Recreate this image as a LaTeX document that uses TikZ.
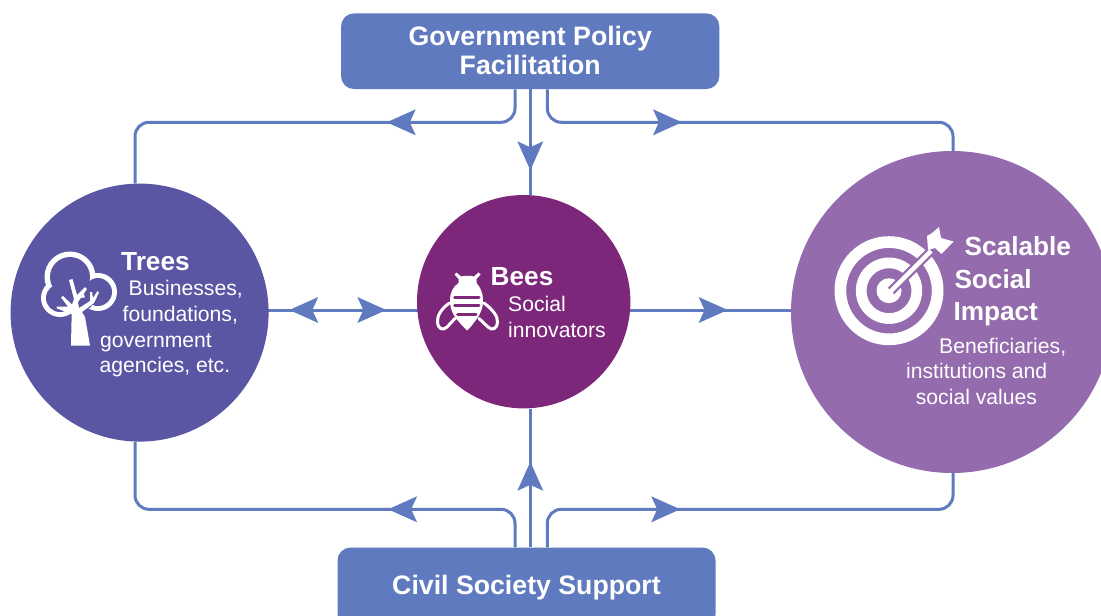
\documentclass[tikz,border=0pt]{standalone}
\usepackage{fontspec}
\setmainfont{Liberation Sans}
\usetikzlibrary{arrows.meta,decorations.markings}
\definecolor{linkblue}{HTML}{5F7ABE}
\definecolor{treecol}{HTML}{5B56A4}
\definecolor{beecol}{HTML}{7D277B}
\definecolor{impactcol}{HTML}{946BAD}
\newcommand{\headfont}{\fontsize{26.7}{29}\bfseries\selectfont}
\newcommand{\bodyfont}{\fontsize{21.15}{25}\selectfont}
\tikzset{
  box/.style={rectangle,rounded corners=13pt,fill=linkblue,text=white,inner sep=0pt,align=center,font=\headfont},
  disc/.style={circle,inner sep=0pt,draw=none},
  conn/.style={draw=linkblue,line width=3pt,rounded corners=14pt},
  flow/.style={conn,postaction={decorate},decoration={markings,mark=at position #1 with {\arrow[linkblue,line width=0pt]{Stealth[length=29pt,width=26pt,inset=6pt]}}}},
  backflow/.style n args={2}{conn,postaction={decorate},decoration={markings,
     mark=at position #1 with {\arrowreversed[linkblue,line width=0pt]{Stealth[length=29pt,width=26pt,inset=6pt]}},
     mark=at position #2 with {\arrow[linkblue,line width=0pt]{Stealth[length=29pt,width=26pt,inset=6pt]}}}},
  head/.style={anchor=base west,inner sep=0pt,text=white,font=\fontsize{26.2}{30}\bfseries\selectfont},
  body/.style={anchor=base west,inner sep=0pt,text=white,font=\bodyfont},
  icon/.style={fill=white,draw=none},
}
\begin{document}
\begin{tikzpicture}[x=1pt,y=-1pt]
\useasboundingbox (0,0) rectangle (1101,616);
\fill[white] (0,0) rectangle (1101,616);
\begin{scope}
\clip (0,0) rectangle (1101,616);
% main nodes
\node[box,minimum width=378.3pt,minimum height=75.7pt] (gov) at (530.2,51.2) {Government Policy\\Facilitation\rule[-2.7pt]{0pt}{0pt}};
\node[box,minimum width=378pt,minimum height=80pt] (civil) at (526.5,587.5) {Civil Society Support};
\coordinate (tl) at (515,122.3);
\coordinate (tr) at (547.3,122.3);
\coordinate (tc) at (530.3,0);
\coordinate (lt) at (135,122.3);
\coordinate (rt) at (953,122.3);
\coordinate (bl) at (515,509.3);
\coordinate (br) at (547.3,509.3);
\coordinate (lb) at (135,509.3);
\coordinate (rb) at (953,509.3);
\coordinate (mid) at (0,310);
% invisible first: circles define anchors
\node[disc,minimum size=258pt] (trees) at (139.6,312.6) {};
\node[disc,minimum size=213.4pt] (bees) at (523.7,301.7) {};
\node[disc,minimum size=322pt] (impact) at (952,312) {};
% connectors
\draw[flow=155.3pt] (gov.south -| tl) -- (tl) -- (lt) -- (trees.north -| lt);
\draw[flow=161.7pt] (gov.south -| tr) -- (tr) -- (rt) -- (impact.north -| rt);
\draw[flow=81pt] (gov.south -| tc) -- (bees.north -| tc);
\draw[flow=158.9pt] (civil.north -| bl) -- (bl) -- (lb) -- (trees.south -| lb);
\draw[flow=164.9pt] (civil.north -| br) -- (br) -- (rb) -- (impact.south -| rb);
\draw[flow=85.5pt] (civil.north -| tc) -- (bees.south -| tc);
\draw[backflow={20.5pt}{117.5pt},shorten <=-2pt,shorten >=-2pt] (trees.east |- mid) -- (bees.west |- mid);
\draw[flow=97pt,shorten <=-2pt,shorten >=-2pt] (bees.east |- mid) -- (impact.west |- mid);
% discs
\fill[treecol] (trees) circle (129pt);
\fill[beecol] (bees) circle (106.7pt);
\fill[impactcol] (impact) circle (161pt);
% tree icon
\fill[icon] (70,277) circle (25.5pt) (60,298) circle (19pt) (98,292) circle (19pt);
\fill[treecol] (70,277) circle (20pt) (60,298) circle (14pt) (98,292) circle (14pt);
\fill[treecol] (62,300) -- (98,296) -- (90,308) -- (72,311) -- cycle;
\fill[icon] (71,345.5) -- (71.5,322) -- (71.5,314) -- (57,308.5) -- (56.5,306.5) -- (68,306.5) -- (61,297.5) -- (63,296) -- (72,304.5) -- (74,299) -- (69,280) -- (72.5,279) -- (77,295) -- (85,287) -- (87,289) -- (78,302) -- (79,308) -- (90,301) -- (90,292) -- (92,292) -- (93,298) -- (97.5,291) -- (99,292.5) -- (94,303) -- (82,312) -- (85,317) -- (90,345.5) -- cycle;
% bee icon
\fill[icon] (467,330.5) -- (463,326.5) -- (456,318.5) .. controls (452,313) and (450,307) .. (450,301) .. controls (450,292) and (453,287) .. (458.5,283) -- (458.5,279) -- (454.5,274.5) -- (456.5,272.5) -- (461,276.5) .. controls (465,275.5) and (470,275.5) .. (474,276.5) -- (478.5,272.5) -- (480.5,274.5) -- (476.5,279) -- (476.5,283) .. controls (480,287) and (483,292) .. (483,301) .. controls (483,307) and (481,313) .. (477,318.5) -- (471,326.5) -- cycle;
\draw[beecol,line width=3pt,line cap=round] (454.5,297.3) -- (479,297.3) (454.5,305.8) -- (479,305.8) (457.5,314) -- (476,314);
\draw[white,line width=3pt,line cap=round] (449.3,303) .. controls (441,309) and (437,316) .. (437.5,322) .. controls (438,329) and (443,331) .. (447,327) -- (455,318.5);
\draw[white,line width=3pt,line cap=round] (484,303) .. controls (492,309) and (498,316) .. (497.5,322) .. controls (497,329) and (492,331) .. (488,327) -- (479,318.5);
% target icon
\fill[icon,even odd rule] (889,290.7) circle (54.5pt) (889,290.7) circle (42.8pt);
\fill[icon,even odd rule] (889,290.7) circle (33.2pt) (889,290.7) circle (22.5pt);
\fill[icon] (889,290.7) circle (12.5pt);
\draw[impactcol,line width=9pt] (891,291) -- (930,252);
\draw[white,line width=4.5pt] (889,293) -- (931,251);
\fill[icon] (928,250) -- (927,236) -- (932,233) -- (939,227) -- (941,238) -- (953.5,241.5) -- (941.5,254) -- (935,248) -- cycle;
% texts
\node[head] (t1) at (121,270) {Trees};
\node[body] (t2) at (128.5,295) {Businesses,};
\node[body] (t3) at (122.5,321) {foundations,};
\node[body] (t4) at (100,347.2) {government};
\node[body] (t5) at (99.5,372.4) {agencies, etc.};
\node[head] (b1) at (490.5,285.7) {Bees};
\node[body] (b2) at (508,311.4) {Social};
\node[body] (b3) at (508,337.4) {innovators};
\node[head] (s1) at (964.5,255.7) {Scalable};
\node[head] (s2) at (954.3,288) {Social};
\node[head] (s3) at (953.3,320) {Impact};
\node[body] (s4) at (939,353.4) {Beneficiaries,};
\node[body] (s5) at (906,378.3) {institutions and};
\node[body] (s6) at (915.7,404) {social values};
\end{scope}
\end{tikzpicture}
\end{document}
